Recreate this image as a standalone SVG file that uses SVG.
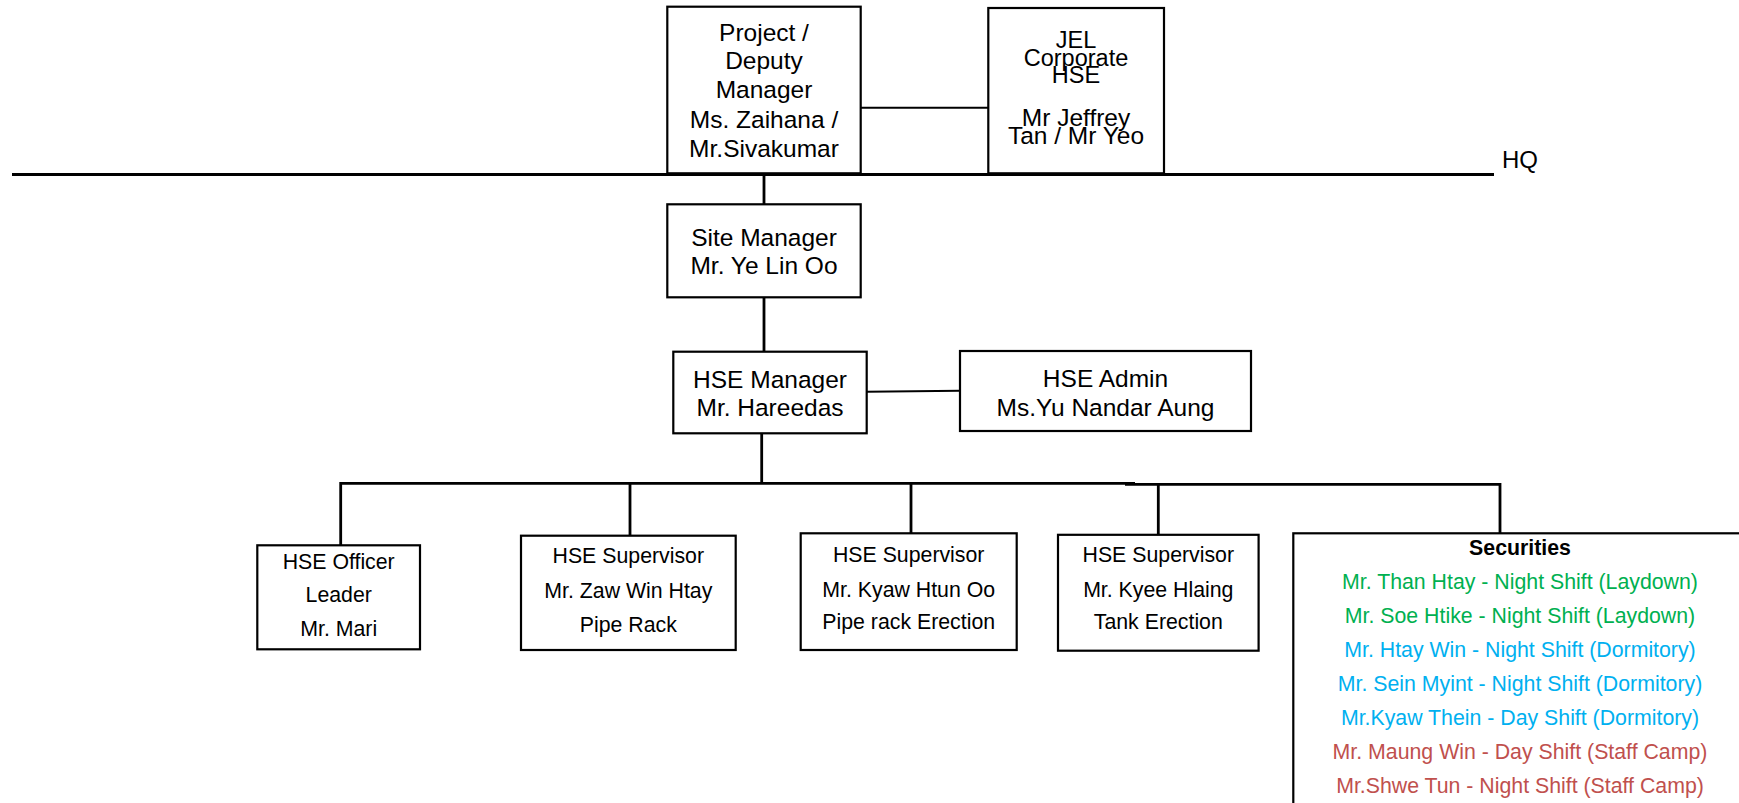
<svg xmlns="http://www.w3.org/2000/svg" width="1739" height="803" viewBox="0 0 1739 803">
<style>
.box{fill:#fff;stroke:#000;stroke-width:2.2}
.ln{fill:none;stroke:#000;stroke-width:2.8}
.thin{fill:none;stroke:#000;stroke-width:2}
text{font-family:"Liberation Sans",Arial,sans-serif;fill:#000;text-anchor:middle}
.big{font-size:24.5px}
.jel{font-size:23.5px}
.sm{font-size:21.3px}
.g{fill:#00B050}
.b{fill:#00B0F0}
.r{fill:#C0504D}
</style>
<rect width="1739" height="803" fill="#fff"/>
<g id="connectors">
<line class="ln" x1="12" y1="174.5" x2="1494" y2="174.5"/>
<line class="thin" x1="860.7" y1="107.7" x2="988.3" y2="107.7"/>
<line class="ln" x1="764" y1="174" x2="764" y2="204.3"/>
<line class="ln" x1="764" y1="297.3" x2="764" y2="351.7"/>
<line class="thin" x1="866.7" y1="391.7" x2="960" y2="390.7"/>
<line class="ln" x1="761.7" y1="433.3" x2="761.7" y2="483.3"/>
<polyline class="ln" points="340.7,545.3 340.7,483.3 1135,483.3"/>
<polyline class="ln" points="1125,484.3 1500,484.3 1500,533.3"/>
<line class="ln" x1="630" y1="483.3" x2="630" y2="535.7"/>
<line class="ln" x1="911" y1="483.3" x2="911" y2="533.3"/>
<line class="ln" x1="1158.3" y1="484" x2="1158.3" y2="534.3"/>
</g>
<g id="hq-label"><text x="1502" y="168.3" style="text-anchor:start;font-size:24px">HQ</text></g>
<g id="project-manager">
<rect class="box" x="667.3" y="6.7" width="193.4" height="166.6"/>
<text class="big" x="764" y="40.7">Project /</text>
<text class="big" x="764" y="69.3">Deputy</text>
<text class="big" x="764" y="97.7">Manager</text>
<text class="big" x="764" y="127.5">Ms. Zaihana /</text>
<text class="big" x="764" y="156.5">Mr.Sivakumar</text>
</g>
<g id="jel-hse">
<rect class="box" x="988.3" y="8" width="175.7" height="165.3"/>
<text class="jel" x="1076" y="48">JEL</text>
<text class="jel" x="1076" y="66">Corporate</text>
<text class="jel" x="1076" y="83">HSE</text>
<text class="big" x="1076" y="126">Mr Jeffrey</text>
<text class="big" x="1076" y="144">Tan / Mr Yeo</text>
</g>
<g id="site-manager">
<rect class="box" x="667.3" y="204.3" width="193.4" height="93"/>
<text class="big" x="764" y="246">Site Manager</text>
<text class="big" x="764" y="274">Mr. Ye Lin Oo</text>
</g>
<g id="hse-manager">
<rect class="box" x="673.3" y="351.7" width="193.4" height="81.6"/>
<text class="big" x="770" y="387.7">HSE Manager</text>
<text class="big" x="770" y="416">Mr. Hareedas</text>
</g>
<g id="hse-admin">
<rect class="box" x="960" y="351" width="291" height="80"/>
<text class="big" x="1105.5" y="386.7">HSE Admin</text>
<text class="big" x="1105.5" y="416">Ms.Yu Nandar Aung</text>
</g>
<g id="hse-officer">
<rect class="box" x="257.3" y="545.3" width="162.7" height="104"/>
<text class="sm" x="338.7" y="568.5">HSE Officer</text>
<text class="sm" x="338.7" y="601.5">Leader</text>
<text class="sm" x="338.7" y="636">Mr. Mari</text>
</g>
<g id="hse-supervisor-1">
<rect class="box" x="521" y="535.7" width="214.7" height="114.3"/>
<text class="sm" x="628.3" y="563">HSE Supervisor</text>
<text class="sm" x="628.3" y="598.3">Mr. Zaw Win Htay</text>
<text class="sm" x="628.3" y="631.7">Pipe Rack</text>
</g>
<g id="hse-supervisor-2">
<rect class="box" x="800.7" y="533.3" width="216" height="116.7"/>
<text class="sm" x="908.7" y="562.3">HSE Supervisor</text>
<text class="sm" x="908.7" y="596.7">Mr. Kyaw Htun Oo</text>
<text class="sm" x="908.7" y="629.3">Pipe rack Erection</text>
</g>
<g id="hse-supervisor-3">
<rect class="box" x="1058" y="534.8" width="200.6" height="115.9"/>
<text class="sm" x="1158.3" y="562.3">HSE Supervisor</text>
<text class="sm" x="1158.3" y="596.7">Mr. Kyee Hlaing</text>
<text class="sm" x="1158.3" y="629.3">Tank Erection</text>
</g>
<g id="securities">
<rect class="box" x="1293.3" y="533.3" width="470" height="300"/>
<text class="sm" x="1520" y="555" style="font-weight:bold">Securities</text>
<text class="sm g" x="1520" y="588.6">Mr. Than Htay - Night Shift (Laydown)</text>
<text class="sm g" x="1520" y="622.7">Mr. Soe Htike - Night Shift (Laydown)</text>
<text class="sm b" x="1520" y="656.7">Mr. Htay Win - Night Shift (Dormitory)</text>
<text class="sm b" x="1520" y="691">Mr. Sein Myint - Night Shift (Dormitory)</text>
<text class="sm b" x="1520" y="725">Mr.Kyaw Thein - Day Shift (Dormitory)</text>
<text class="sm r" x="1520" y="758.6">Mr. Maung Win - Day Shift (Staff Camp)</text>
<text class="sm r" x="1520" y="792.7">Mr.Shwe Tun - Night Shift (Staff Camp)</text>
</g>
</svg>
